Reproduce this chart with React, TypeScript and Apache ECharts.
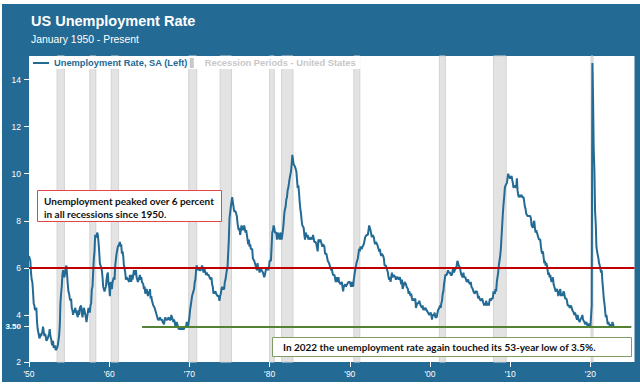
import React, { useEffect, useRef } from "react";
import * as echarts from "echarts";

// Monthly US unemployment rate (SA, %), Jan 1950 - Dec 2022, by decade
const rate1950s = [
  6.5, 6.4, 6.3, 5.8, 5.5, 5.4, 5.0, 4.5, 4.4, 4.2, 4.2, 4.3,
  3.7, 3.4, 3.4, 3.1, 3.0, 3.2, 3.1, 3.1, 3.3, 3.5, 3.5, 3.1,
  3.2, 3.1, 2.9, 2.9, 3.0, 3.0, 3.2, 3.4, 3.1, 3.0, 2.8, 2.7,
  2.9, 2.6, 2.6, 2.7, 2.5, 2.5, 2.6, 2.7, 2.9, 3.1, 3.5, 4.5,
  4.9, 5.2, 5.7, 5.9, 5.9, 5.6, 5.8, 6.0, 6.1, 5.7, 5.3, 5.0,
  4.9, 4.7, 4.6, 4.7, 4.3, 4.2, 4.0, 4.2, 4.1, 4.3, 4.2, 4.2,
  4.0, 3.9, 4.2, 4.0, 4.3, 4.3, 4.4, 4.1, 3.9, 3.9, 4.3, 4.2,
  4.2, 3.9, 3.7, 3.9, 4.1, 4.3, 4.2, 4.1, 4.4, 4.5, 5.1, 5.2,
  5.8, 6.4, 6.7, 7.4, 7.4, 7.3, 7.5, 7.4, 7.1, 6.7, 6.2, 6.2,
  6.0, 5.9, 5.6, 5.2, 5.1, 5.0, 5.1, 5.2, 5.5, 5.7, 5.8, 5.3,
];
const rate1960s = [
  5.2, 4.8, 5.4, 5.2, 5.1, 5.4, 5.5, 5.6, 5.5, 6.1, 6.1, 6.6,
  6.6, 6.9, 6.9, 7.0, 7.1, 6.9, 7.0, 6.6, 6.7, 6.5, 6.1, 6.0,
  5.8, 5.5, 5.6, 5.6, 5.5, 5.5, 5.4, 5.7, 5.6, 5.4, 5.7, 5.5,
  5.7, 5.9, 5.7, 5.7, 5.9, 5.6, 5.6, 5.4, 5.5, 5.5, 5.7, 5.5,
  5.6, 5.4, 5.4, 5.3, 5.1, 5.2, 4.9, 5.0, 5.1, 5.1, 4.8, 5.0,
  4.9, 5.1, 4.7, 4.8, 4.6, 4.6, 4.4, 4.4, 4.3, 4.2, 4.1, 4.0,
  4.0, 3.8, 3.8, 3.8, 3.9, 3.8, 3.8, 3.8, 3.7, 3.7, 3.6, 3.8,
  3.9, 3.8, 3.8, 3.8, 3.8, 3.9, 3.8, 3.8, 3.8, 4.0, 3.9, 3.8,
  3.7, 3.8, 3.7, 3.5, 3.5, 3.7, 3.7, 3.5, 3.4, 3.4, 3.4, 3.4,
  3.4, 3.4, 3.4, 3.4, 3.4, 3.5, 3.5, 3.5, 3.7, 3.7, 3.5, 3.5,
];
const rate1970s = [
  3.9, 4.2, 4.4, 4.6, 4.8, 4.9, 5.0, 5.1, 5.4, 5.5, 5.9, 6.1,
  5.9, 5.9, 6.0, 5.9, 5.9, 5.9, 6.0, 6.1, 6.0, 5.8, 6.0, 6.0,
  5.8, 5.7, 5.8, 5.7, 5.7, 5.7, 5.6, 5.6, 5.5, 5.6, 5.3, 5.2,
  4.9, 5.0, 4.9, 5.0, 4.9, 4.9, 4.8, 4.8, 4.8, 4.6, 4.8, 4.9,
  5.1, 5.2, 5.1, 5.1, 5.1, 5.4, 5.5, 5.5, 5.9, 6.0, 6.6, 7.2,
  8.1, 8.1, 8.6, 8.8, 9.0, 8.8, 8.6, 8.4, 8.4, 8.4, 8.3, 8.2,
  7.9, 7.7, 7.6, 7.7, 7.4, 7.6, 7.8, 7.8, 7.6, 7.7, 7.8, 7.8,
  7.5, 7.6, 7.4, 7.2, 7.0, 7.2, 6.9, 7.0, 6.8, 6.8, 6.8, 6.4,
  6.4, 6.3, 6.3, 6.1, 6.0, 5.9, 6.2, 5.9, 6.0, 5.8, 5.9, 6.0,
  5.9, 5.9, 5.8, 5.8, 5.6, 5.7, 5.7, 6.0, 5.9, 6.0, 5.9, 6.0,
];
const rate1980s = [
  6.3, 6.3, 6.3, 6.9, 7.5, 7.6, 7.8, 7.7, 7.5, 7.5, 7.5, 7.2,
  7.5, 7.4, 7.4, 7.2, 7.5, 7.5, 7.2, 7.4, 7.6, 7.9, 8.3, 8.5,
  8.6, 8.9, 9.0, 9.3, 9.4, 9.6, 9.8, 9.8, 10.1, 10.4, 10.8, 10.8,
  10.4, 10.4, 10.3, 10.2, 10.1, 10.1, 9.4, 9.5, 9.2, 8.8, 8.5, 8.3,
  8.0, 7.8, 7.8, 7.7, 7.4, 7.2, 7.5, 7.5, 7.3, 7.4, 7.2, 7.3,
  7.3, 7.2, 7.2, 7.3, 7.2, 7.4, 7.4, 7.1, 7.1, 7.1, 7.0, 7.0,
  6.7, 7.2, 7.2, 7.1, 7.2, 7.2, 7.0, 6.9, 7.0, 7.0, 6.9, 6.6,
  6.6, 6.6, 6.6, 6.3, 6.3, 6.2, 6.1, 6.0, 5.9, 6.0, 5.8, 5.7,
  5.7, 5.7, 5.7, 5.4, 5.6, 5.4, 5.4, 5.6, 5.4, 5.4, 5.3, 5.3,
  5.4, 5.2, 5.0, 5.2, 5.2, 5.3, 5.2, 5.2, 5.3, 5.3, 5.4, 5.4,
];
const rate1990s = [
  5.4, 5.3, 5.2, 5.4, 5.4, 5.2, 5.5, 5.7, 5.9, 5.9, 6.2, 6.3,
  6.4, 6.6, 6.8, 6.7, 6.9, 6.9, 6.8, 6.9, 6.9, 7.0, 7.0, 7.3,
  7.3, 7.4, 7.4, 7.4, 7.6, 7.8, 7.7, 7.6, 7.6, 7.3, 7.4, 7.4,
  7.3, 7.1, 7.0, 7.1, 7.1, 7.0, 6.9, 6.8, 6.7, 6.8, 6.6, 6.5,
  6.6, 6.6, 6.5, 6.4, 6.1, 6.1, 6.1, 6.0, 5.9, 5.8, 5.6, 5.5,
  5.6, 5.4, 5.4, 5.8, 5.6, 5.6, 5.7, 5.7, 5.6, 5.5, 5.6, 5.6,
  5.6, 5.5, 5.5, 5.6, 5.6, 5.3, 5.5, 5.1, 5.2, 5.2, 5.4, 5.4,
  5.3, 5.2, 5.2, 5.1, 4.9, 5.0, 4.9, 4.8, 4.9, 4.7, 4.6, 4.7,
  4.6, 4.6, 4.7, 4.3, 4.4, 4.5, 4.5, 4.5, 4.6, 4.5, 4.4, 4.4,
  4.3, 4.4, 4.2, 4.3, 4.2, 4.3, 4.3, 4.2, 4.2, 4.1, 4.1, 4.0,
];
const rate2000s = [
  4.0, 4.1, 4.0, 3.8, 4.0, 4.0, 4.0, 4.1, 3.9, 3.9, 3.9, 3.9,
  4.2, 4.2, 4.3, 4.4, 4.3, 4.5, 4.6, 4.9, 5.0, 5.3, 5.5, 5.7,
  5.7, 5.7, 5.7, 5.9, 5.8, 5.8, 5.8, 5.7, 5.7, 5.7, 5.9, 6.0,
  5.8, 5.9, 5.9, 6.0, 6.1, 6.3, 6.2, 6.1, 6.1, 6.0, 5.8, 5.7,
  5.7, 5.6, 5.8, 5.6, 5.6, 5.6, 5.5, 5.4, 5.4, 5.5, 5.4, 5.4,
  5.3, 5.4, 5.2, 5.2, 5.1, 5.0, 5.0, 4.9, 5.0, 5.0, 5.0, 4.9,
  4.7, 4.8, 4.7, 4.7, 4.6, 4.6, 4.7, 4.7, 4.5, 4.4, 4.5, 4.4,
  4.6, 4.5, 4.4, 4.5, 4.4, 4.6, 4.7, 4.6, 4.7, 4.7, 4.7, 5.0,
  5.0, 4.9, 5.1, 5.0, 5.4, 5.6, 5.8, 6.1, 6.1, 6.5, 6.8, 7.3,
  7.8, 8.3, 8.7, 9.0, 9.4, 9.5, 9.5, 9.6, 9.8, 10.0, 9.9, 9.9,
];
const rate2010s = [
  9.8, 9.8, 9.9, 9.9, 9.6, 9.4, 9.4, 9.5, 9.5, 9.4, 9.8, 9.3,
  9.1, 9.0, 9.0, 9.1, 9.0, 9.1, 9.0, 9.0, 9.0, 8.8, 8.6, 8.5,
  8.3, 8.3, 8.2, 8.2, 8.2, 8.2, 8.2, 8.1, 7.8, 7.8, 7.7, 7.9,
  8.0, 7.7, 7.5, 7.6, 7.5, 7.5, 7.3, 7.2, 7.2, 7.2, 6.9, 6.7,
  6.6, 6.7, 6.7, 6.2, 6.3, 6.1, 6.2, 6.1, 5.9, 5.7, 5.8, 5.6,
  5.7, 5.5, 5.4, 5.4, 5.6, 5.3, 5.2, 5.1, 5.0, 5.0, 5.1, 5.0,
  4.8, 4.9, 5.0, 5.1, 4.8, 4.9, 4.8, 4.9, 5.0, 4.9, 4.7, 4.7,
  4.7, 4.6, 4.4, 4.4, 4.4, 4.3, 4.3, 4.4, 4.3, 4.2, 4.2, 4.1,
  4.0, 4.1, 4.0, 4.0, 3.8, 4.0, 3.8, 3.8, 3.7, 3.8, 3.8, 3.9,
  4.0, 3.8, 3.8, 3.7, 3.6, 3.6, 3.7, 3.6, 3.5, 3.6, 3.6, 3.6,
];
const rate2020s = [
  3.5, 3.5, 4.4, 14.7, 13.2, 11.0, 10.2, 8.4, 7.9, 6.9, 6.7, 6.7,
  6.4, 6.2, 6.1, 6.1, 5.8, 5.9, 5.4, 5.1, 4.7, 4.5, 4.2, 3.9,
  4.0, 3.8, 3.6, 3.7, 3.6, 3.6, 3.5, 3.6, 3.5, 3.7, 3.6, 3.5,
];

// NBER recession periods (first month, last month)
const recessions: [string, string][] = [
  ["1953-07", "1954-05"],
  ["1957-08", "1958-04"],
  ["1960-04", "1961-02"],
  ["1969-12", "1970-11"],
  ["1973-11", "1975-03"],
  ["1980-01", "1980-07"],
  ["1981-07", "1982-11"],
  ["1990-07", "1991-03"],
  ["2001-03", "2001-11"],
  ["2007-12", "2009-06"],
  ["2020-02", "2020-04"],
];

const xTickYears = [1950, 1960, 1970, 1980, 1990, 2000, 2010, 2020];
const yTickValues = [2, 3.5, 4, 6, 8, 10, 12, 14];

const recessionThreshold = 6;
const lowLevel = 3.5;
const lowLineFrom = 1964.1;
const lowLineTo = 2025.1;

const startYear = 1950;
const allRates = [
  ...rate1950s, ...rate1960s, ...rate1970s, ...rate1980s,
  ...rate1990s, ...rate2000s, ...rate2010s, ...rate2020s,
];
const lineData = allRates.map((v, i) => [startYear + i / 12, v]);

const monthStart = (s: string) => {
  const [y, m] = s.split("-").map(Number);
  return y + (m - 1) / 12;
};
const monthEnd = (s: string) => {
  const [y, m] = s.split("-").map(Number);
  return y + m / 12;
};

const BLUE_BG = "#236a94";
const LINE_BLUE = "#236a94";
const FONT = "'Liberation Sans', Arial, sans-serif";
const NOTE_FONT = "Lato, 'Open Sans', sans-serif";

export default function App() {
  const ref = useRef<HTMLDivElement>(null);

  useEffect(() => {
    if (!ref.current) return;
    const chart = echarts.init(ref.current, undefined, { renderer: "svg" });
    const option: any = {
      animation: false,
      backgroundColor: "transparent",
      textStyle: { fontFamily: FONT },
      title: {
        text: "US Unemployment Rate",
        subtext: "January 1950 - Present",
        left: 31,
        top: 12,
        padding: 0,
        itemGap: 4,
        textStyle: { color: "#fff", fontSize: 14.5, fontWeight: "bold", lineHeight: 17, fontFamily: FONT },
        subtextStyle: { color: "#fff", fontSize: 10.4, lineHeight: 12, fontFamily: FONT },
      },
      legend: {
        left: 29,
        top: 56,
        padding: [2, 5, 1, 4],
        itemWidth: 16,
        itemHeight: 10,
        itemGap: 2,
        backgroundColor: "#fff",
        selectedMode: false,
        textStyle: { fontSize: 9.3, fontWeight: "bold", fontFamily: FONT },
        data: [
          {
            name: "Unemployment Rate, SA (Left)",
            icon: "path://M0,0H16V2H0Z",
            textStyle: { color: LINE_BLUE },
          },
          {
            name: "Recession Periods - United States",
            icon: "path://M0,0H4V10H0Z",
            textStyle: { color: "#c8c8c8" },
          },
        ],
      },
      grid: {
        left: 29,
        right: 5.5,
        top: 56,
        bottom: 23,
        show: true,
        backgroundColor: "#fff",
        borderWidth: 0,
      },
      xAxis: {
        type: "value",
        min: 1950,
        max: 2025.5,
        interval: 10,
        splitLine: { show: false },
        axisLine: { show: false },
        axisTick: {
          show: true,
          length: 5,
          customValues: xTickYears,
          lineStyle: { color: "#fff", width: 1 },
        },
        axisLabel: {
          customValues: xTickYears,
          color: "#fff",
          fontSize: 8.5,
          margin: 7,
          formatter: (v: number) => "'" + String(Math.round(v)).slice(2),
        },
      },
      yAxis: {
        type: "value",
        min: 2,
        max: 15,
        splitLine: { show: false },
        axisLine: { show: false },
        axisTick: {
          show: true,
          length: 5,
          customValues: yTickValues,
          lineStyle: { color: "#fff", width: 1 },
        },
        axisLabel: {
          customValues: yTickValues,
          color: "#fff",
          fontSize: 8.5,
          margin: 8,
          formatter: (v: number) => (v === 3.5 ? "{b|3.50}" : String(v)),
          rich: { b: { fontWeight: "bold", fontSize: 8, color: "#fff", fontFamily: FONT } },
        },
      },
      series: [
        {
          name: "Recession Periods - United States",
          type: "line",
          data: [],
          z: 1,
          itemStyle: { color: "#c8c8c8" },
          lineStyle: { color: "#c8c8c8" },
          markArea: {
            silent: true,
            itemStyle: { color: "#e3e3e3", borderColor: "#d3d3d3", borderWidth: 1 },
            data: recessions.map(([s, e]) => [{ xAxis: monthStart(s) }, { xAxis: monthEnd(e) }]),
          },
        },
        {
          name: "Unemployment Rate, SA (Left)",
          type: "line",
          data: lineData,
          showSymbol: false,
          symbol: "none",
          z: 3,
          itemStyle: { color: LINE_BLUE },
          lineStyle: { color: LINE_BLUE, width: 2 },
          markLine: {
            silent: true,
            symbol: ["none", "none"],
            label: { show: false },
            data: [
              { yAxis: recessionThreshold, lineStyle: { color: "#c00000", width: 2, type: "solid" } },
              [
                { coord: [lowLineFrom, lowLevel], lineStyle: { color: "#548235", width: 2, type: "solid" } },
                { coord: [lowLineTo, lowLevel] },
              ],
            ],
          },
        },
      ],
      graphic: {
        elements: [
          {
            type: "rect",
            z: 100,
            zlevel: 1,
            shape: { x: 37.5, y: 190.5, width: 184, height: 31 },
            style: { fill: "#fff", stroke: "#e04848", lineWidth: 1 },
          },
          {
            type: "text",
            z: 101,
            zlevel: 1,
            x: 44,
            y: 194,
            style: {
              text: "Unemployment peaked over 6 percent\nin all recessions since 1950.",
              fill: "#111",
              font: "bold 10px " + NOTE_FONT,
              lineHeight: 13.5,
            },
          },
          {
            type: "rect",
            z: 100,
            zlevel: 1,
            shape: { x: 272.5, y: 337.5, width: 359, height: 19 },
            style: { fill: "#fff", stroke: "#7f9c66", lineWidth: 1 },
          },
          {
            type: "text",
            z: 101,
            zlevel: 1,
            x: 283,
            y: 347,
            style: {
              text: "In 2022 the unemployment rate again touched its 53-year low of 3.5%.",
              fill: "#111",
              font: "bold 10px " + NOTE_FONT,
              verticalAlign: "middle",
            },
          },
        ],
      },
    };
    chart.setOption(option);
    return () => chart.dispose();
  }, []);

  return (
    <div style={{ position: "fixed", left: 0, top: 0, width: 640, height: 385, background: "#fff" }}>
      <div
        style={{ position: "absolute", left: 2, top: 4, width: 638, height: 378, background: BLUE_BG }}
      />
      <div ref={ref} style={{ position: "absolute", left: 0, top: 0, width: 640, height: 385 }} />
    </div>
  );
}
